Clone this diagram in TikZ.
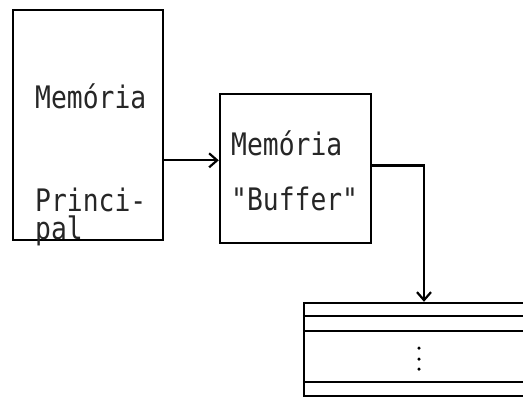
\documentclass[tikz,border=0pt]{standalone}
\usepackage{fontspec}
\newfontfamily\typew[FakeStretch=0.85]{DejaVu Sans Mono}
\usetikzlibrary{arrows.meta,calc}
\tikzset{
  box/.style={draw, line width=2.4pt, rectangle, inner sep=0pt},
  lbl/.style={anchor=base west, inner sep=0pt, font=\typew\fontsize{31}{31}\selectfont, text=black!85},
  conn/.style={line width=2.2pt, -{Straight Barb[length=8pt,width=14pt,line width=2.2pt]}},
  ln/.style={line width=2.4pt},
  dot/.style={circle, fill=black, inner sep=0pt, minimum size=3.5pt}
}
\begin{document}
\begin{tikzpicture}[x=1pt,y=-1pt]
\useasboundingbox (0,0) rectangle (523,397);
\clip (0,0) rectangle (523,397);
% main memory
\node[box, minimum width=150pt, minimum height=230pt] (mp) at (88,125) {};
\node[lbl] (t1) at (35,108) {Memória};
\node[lbl] (t2) at (35,211) {Princi-};
\node[lbl] (t3) at (35,239) {pal};
% buffer
\node[box, minimum width=151pt, minimum height=149pt] (buf) at (295.5,168.5) {};
\node[lbl] (t4) at (231,155) {Memória};
\node[lbl] (t5) at (231,210) {"Buffer"};
% stack
\node[box, minimum width=240pt, minimum height=93pt] (st) at (424,349.5) {};
\coordinate (r1) at ($(st.north west)+(0,14)$);
\coordinate (r2) at ($(st.north west)+(0,29)$);
\coordinate (r3) at ($(st.north west)+(0,80)$);
\draw[ln] (r1) -- (r1 -| st.east);
\draw[ln] (r2) -- (r2 -| st.east);
\draw[ln] (r3) -- (r3 -| st.east);
\node[dot] (d1) at (419,348) {};
\node[dot] (d2) at (419,359) {};
\node[dot] (d3) at (419,369) {};
% connectors
\coordinate (a) at ($(mp.north east)!0.652!(mp.south east)$);
\draw[conn] (a) -- (a -| buf.west);
\coordinate (b) at ($(buf.east)+(0,-3)$);
\draw[conn] (b) -| (st.north);
\end{tikzpicture}
\end{document}
